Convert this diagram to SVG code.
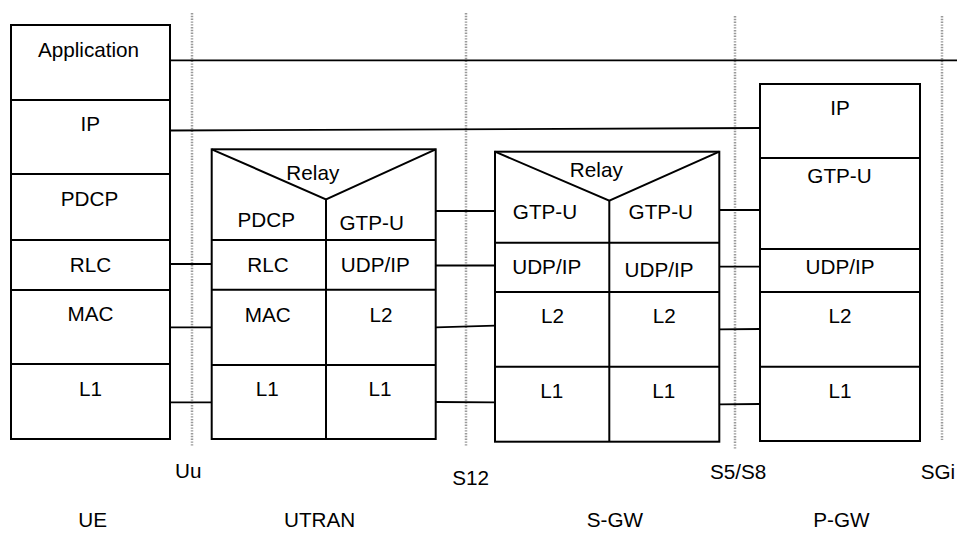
<svg xmlns="http://www.w3.org/2000/svg" width="957" height="533" viewBox="0 0 957 533">
<style>
.box{fill:#fff;stroke:#000;stroke-width:2}
.ln{fill:none;stroke:#000;stroke-width:2}
.cn{fill:none;stroke:#000;stroke-width:1.8}
.dot{fill:none;stroke:#9a9a9a;stroke-width:2.5;stroke-dasharray:1.4 1.4}
text{font-family:"Liberation Sans",Arial,sans-serif;font-size:20.7px;fill:#000;text-anchor:middle}
.st{text-anchor:start}
</style>
<rect width="957" height="533" fill="#fff"/>
<g id="interfaces">
<line class="dot" x1="192" y1="13" x2="192" y2="447"/>
<line class="dot" x1="466" y1="13" x2="466" y2="447"/>
<line class="dot" x1="735" y1="16" x2="735" y2="450"/>
<line class="dot" x1="942" y1="16" x2="942" y2="440"/>
</g>
<g id="connectors">
<line class="cn" x1="167" y1="60.3" x2="957" y2="60.3"/>
<line class="cn" x1="170" y1="130.5" x2="760" y2="128"/>
<line class="cn" x1="170" y1="264" x2="212" y2="264"/>
<line class="cn" x1="170" y1="327.3" x2="212" y2="327.3"/>
<line class="cn" x1="170" y1="402.3" x2="212" y2="402.3"/>
<line class="cn" x1="436" y1="211" x2="495" y2="211"/>
<line class="cn" x1="436" y1="265.5" x2="495" y2="265.5"/>
<line class="cn" x1="436" y1="327.3" x2="495" y2="325.7"/>
<line class="cn" x1="436" y1="402" x2="495" y2="402.3"/>
<line class="cn" x1="719" y1="210" x2="760" y2="210"/>
<line class="cn" x1="719" y1="266.7" x2="760" y2="266.7"/>
<line class="cn" x1="719" y1="329.3" x2="760" y2="329"/>
<line class="cn" x1="719" y1="404.3" x2="760" y2="404"/>
</g>
<g id="ue">
<rect class="box" x="11" y="25" width="159" height="414"/>
<line class="ln" x1="11" y1="100" x2="170" y2="100"/>
<line class="ln" x1="11" y1="174" x2="170" y2="174"/>
<line class="ln" x1="11" y1="240" x2="170" y2="240"/>
<line class="ln" x1="11" y1="290" x2="170" y2="290"/>
<line class="ln" x1="11" y1="364" x2="170" y2="364"/>
<text x="88.5" y="57.3">Application</text>
<text x="90.3" y="131">IP</text>
<text x="89.5" y="205.5">PDCP</text>
<text x="90.5" y="271.7">RLC</text>
<text x="90.5" y="320.7">MAC</text>
<text x="90.5" y="395.7">L1</text>
</g>
<g id="utran">
<rect class="box" x="211.7" y="149.3" width="224" height="289.7"/>
<polyline class="ln" points="211.7,149.3 326,199.3 435.7,149.3"/>
<line class="ln" x1="326" y1="199.3" x2="326" y2="439"/>
<line class="ln" x1="211.7" y1="240" x2="435.7" y2="240"/>
<line class="ln" x1="211.7" y1="289.7" x2="435.7" y2="289.7"/>
<line class="ln" x1="211.7" y1="365" x2="435.7" y2="365"/>
<text x="312.8" y="180">Relay</text>
<text x="266.3" y="227.3">PDCP</text>
<text x="371.7" y="230">GTP-U</text>
<text x="268" y="271.7">RLC</text>
<text x="375.3" y="271.7">UDP/IP</text>
<text x="267.8" y="321.7">MAC</text>
<text x="381" y="321.7">L2</text>
<text x="267.2" y="396">L1</text>
<text x="380" y="396">L1</text>
</g>
<g id="sgw">
<rect class="box" x="495" y="151.7" width="224.3" height="290"/>
<polyline class="ln" points="495,151.7 609.3,200.7 719.3,151.7"/>
<line class="ln" x1="609.3" y1="200.7" x2="609.3" y2="441.7"/>
<line class="ln" x1="495" y1="242.7" x2="719.3" y2="242.7"/>
<line class="ln" x1="495" y1="292" x2="719.3" y2="292"/>
<line class="ln" x1="495" y1="366.7" x2="719.3" y2="366.7"/>
<text x="596.3" y="177.3">Relay</text>
<text x="545" y="219.3">GTP-U</text>
<text x="660.8" y="219.3">GTP-U</text>
<text x="546.7" y="274">UDP/IP</text>
<text x="659" y="276.7">UDP/IP</text>
<text x="552.5" y="322.7">L2</text>
<text x="664.2" y="322.7">L2</text>
<text x="551.7" y="398.3">L1</text>
<text x="663.8" y="398.3">L1</text>
</g>
<g id="pgw">
<rect class="box" x="760" y="84" width="160" height="357"/>
<line class="ln" x1="760" y1="158" x2="920" y2="158"/>
<line class="ln" x1="760" y1="249" x2="920" y2="249"/>
<line class="ln" x1="760" y1="292" x2="920" y2="292"/>
<line class="ln" x1="760" y1="366.7" x2="920" y2="366.7"/>
<text x="840" y="115">IP</text>
<text x="839.5" y="183.3">GTP-U</text>
<text x="840" y="274">UDP/IP</text>
<text x="840" y="322.7">L2</text>
<text x="840" y="397.7">L1</text>
</g>
<g id="labels">
<text class="st" x="175" y="477.7">Uu</text>
<text class="st" x="452.3" y="485">S12</text>
<text class="st" x="710" y="479.3">S5/S8</text>
<text class="st" x="920.7" y="479.3">SGi</text>
<text class="st" x="78.3" y="527">UE</text>
<text class="st" x="284" y="527">UTRAN</text>
<text class="st" x="586.7" y="527">S-GW</text>
<text class="st" x="813.3" y="527">P-GW</text>
</g>
</svg>
